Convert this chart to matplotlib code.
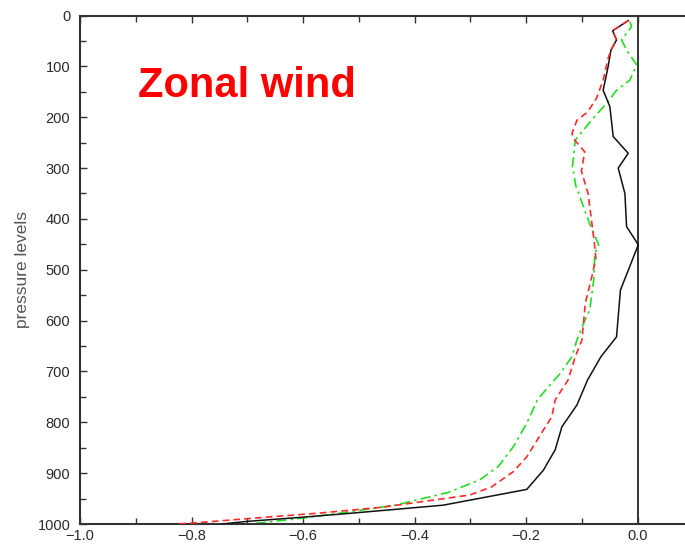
import matplotlib.pyplot as plt
from matplotlib.ticker import MultipleLocator

plt.rcParams["font.family"] = ["Liberation Sans", "DejaVu Sans"]

# pressure levels (hPa) and zonal wind values
p_black = [10, 30, 48, 68, 100, 147, 179, 238, 271, 300, 350, 415, 451, 540, 632,
           671, 717, 766, 809, 854, 894, 932, 963, 979, 987, 995, 1000]
u_black = [-0.017, -0.045, -0.038, -0.048, -0.053, -0.062, -0.050, -0.044, -0.017,
           -0.035, -0.023, -0.020, 0.001, -0.031, -0.038, -0.066, -0.090, -0.109,
           -0.136, -0.148, -0.169, -0.199, -0.349, -0.516, -0.605, -0.702, -0.745]

p_red = [10, 30, 48, 68, 84, 127, 163, 190, 206, 232, 245, 268, 306, 350, 402, 445,
         478, 517, 566, 638, 671, 717, 756, 789, 815, 868, 897, 927, 943, 952, 967,
         979, 989, 997, 1000]
u_red = [-0.017, -0.045, -0.038, -0.048, -0.053, -0.062, -0.074, -0.090, -0.109,
         -0.118, -0.113, -0.095, -0.101, -0.089, -0.083, -0.078, -0.075, -0.083,
         -0.094, -0.100, -0.112, -0.125, -0.148, -0.154, -0.169, -0.199, -0.223,
         -0.262, -0.301, -0.360, -0.458, -0.576, -0.695, -0.785, -0.827]

p_green = [12, 22, 48, 68, 97, 127, 147, 173, 202, 245, 297, 335, 380, 410, 451, 468,
           520, 579, 605, 638, 671, 704, 730, 756, 802, 848, 887, 913, 938, 963, 976,
           989, 1000]
u_green = [-0.014, -0.011, -0.029, -0.020, -0.002, -0.014, -0.038, -0.056, -0.080,
           -0.112, -0.117, -0.111, -0.096, -0.086, -0.070, -0.077, -0.079, -0.086,
           -0.097, -0.109, -0.118, -0.139, -0.160, -0.180, -0.199, -0.223, -0.250,
           -0.283, -0.340, -0.435, -0.516, -0.605, -0.695]

fig = plt.figure(figsize=(6.85, 5.44), dpi=100)
ax = fig.add_axes([80/685, 20/544, 613.5/685, 508.5/544])

ax.axvline(0.0, color='#333333', lw=1.4, zorder=1)
ax.plot(u_black, p_black, color='#111111', lw=1.1, zorder=3)
ax.plot(u_red, p_red, color='#ff2a2a', lw=1.2, ls=(0, (4, 2.5)), zorder=4)
ax.plot(u_green, p_green, color='#22dd22', lw=1.2, ls=(0, (6, 2.5, 1.5, 2.5)), zorder=2)

ax.set_xlim(-1.0, 0.1)
ax.set_ylim(1000, 0)
ax.xaxis.set_major_locator(MultipleLocator(0.2))
ax.xaxis.set_minor_locator(MultipleLocator(0.1))
ax.yaxis.set_major_locator(MultipleLocator(100))
ax.yaxis.set_minor_locator(MultipleLocator(50))
ax.xaxis.set_major_formatter(lambda v, pos: f"{v:.1f}".replace("-", "\u2212") if abs(v) > 1e-9 else "0.0")

ax.tick_params(which='both', direction='in', top=True, right=False, width=1.0,
               color='#333333', labelsize=10.5, labelcolor='#2a2a2a')
ax.tick_params(which='major', length=5)
ax.tick_params(which='minor', length=4)
ax.tick_params(axis='y', pad=7)
ax.tick_params(axis='x', pad=3.5)

for s in ['left', 'bottom', 'top']:
    ax.spines[s].set_linewidth(1.5)
    ax.spines[s].set_color('#333333')
ax.spines['right'].set_visible(False)

ax.set_ylabel('pressure levels', fontsize=12.5, color='#555555', labelpad=5)

fig.text(138/685, 1 - 97/544, 'Zonal wind', color='red', fontsize=30,
         fontweight='bold', va='baseline', ha='left')

fig.savefig('out.png', dpi=100)
